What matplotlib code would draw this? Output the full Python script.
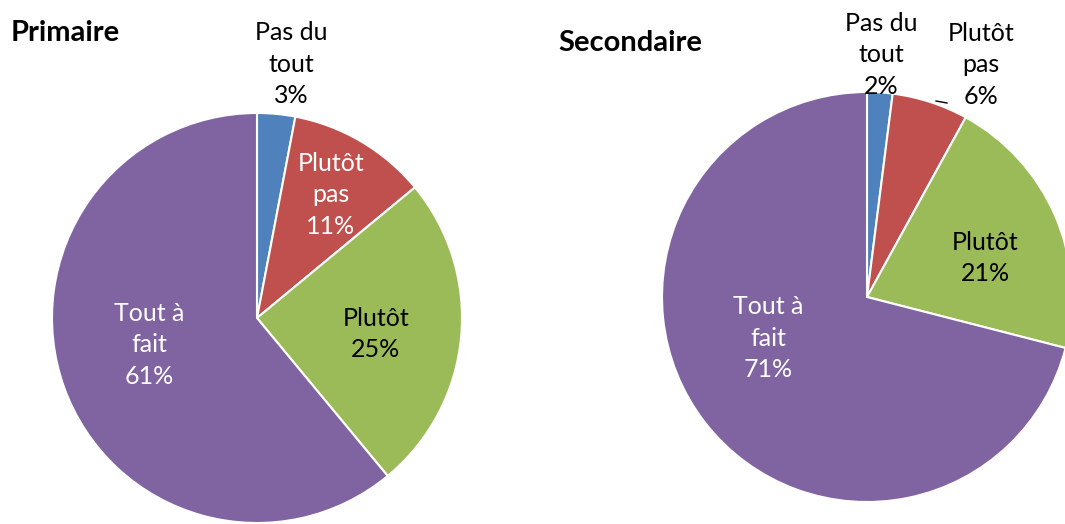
import matplotlib
matplotlib.use("Agg")
import matplotlib.pyplot as plt

# données
categories = ["Pas du\ntout", "Plutôt\npas", "Plutôt", "Tout à\nfait"]
primaire = [3, 11, 25, 61]
secondaire = [2, 6, 21, 71]
colors = ["#4F81BD", "#C0504D", "#9BBB59", "#8064A2"]

W, H = 1065, 524
plt.rcParams['font.family'] = ['Lato', 'DejaVu Sans']

fig = plt.figure(figsize=(W / 100, H / 100), dpi=100)
ax = fig.add_axes([0, 0, 1, 1])


def py(y):
    # pixel (haut -> bas) vers coordonnées de l'axe
    return H - y


def draw_pie(values, center, radius, label_pos, label_colors):
    ax.pie(values, colors=colors, startangle=90, counterclock=False,
           center=(center[0], py(center[1])), radius=radius,
           wedgeprops=dict(edgecolor="white", linewidth=1.5))
    for cat, v, (x, y), c in zip(categories, values, label_pos, label_colors):
        ax.text(x, py(y), f"{cat}\n{v}%", ha="center", va="center",
                fontsize=18, color=c, linespacing=1.45)


# Primaire
draw_pie(primaire, (257, 318), 205,
         [(291, 64), (331, 195), (376, 334), (149, 345)],
         ["black", "white", "black", "white"])
ax.text(11, py(33), "Primaire", fontsize=21, fontweight="bold",
        ha="left", va="center")

# Secondaire
draw_pie(secondaire, (867, 297), 205,
         [(881, 55), (981, 65), (985, 258), (768, 338)],
         ["black", "black", "black", "white"])
ax.plot([936, 947], [py(101), py(103)], color="black", lw=1)
ax.text(558, py(43), "Secondaire", fontsize=21, fontweight="bold",
        ha="left", va="center")

ax.set_xlim(0, W)
ax.set_ylim(0, H)
ax.set_aspect("equal")
ax.axis("off")

fig.savefig("out.png", dpi=100)
